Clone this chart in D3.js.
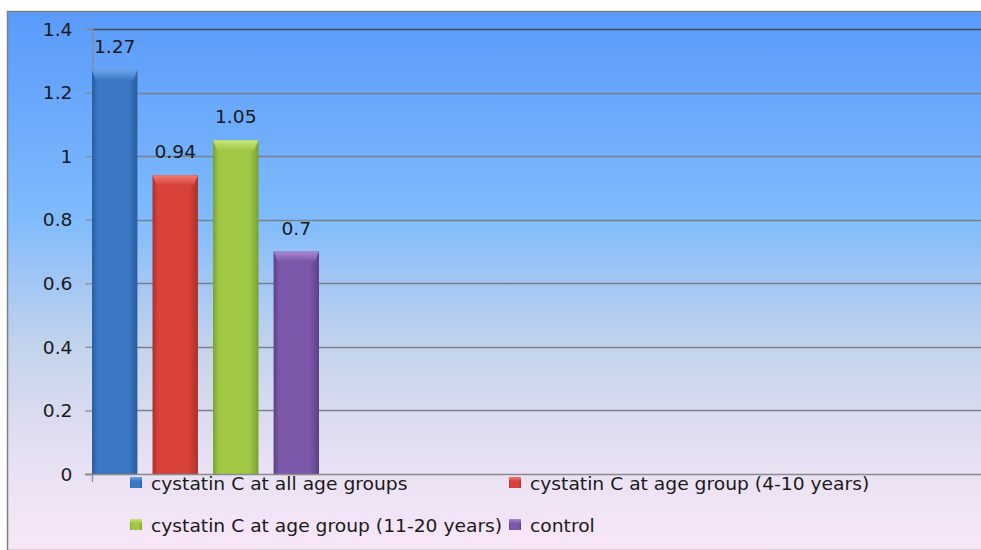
<!DOCTYPE html>
<html>
<head>
<meta charset="utf-8">
<script src="https://cdn.jsdelivr.net/npm/d3@7"></script>
<style>
  html, body { margin: 0; padding: 0; background: #ffffff; }
  svg { display: block; }
  text { font-family: "DejaVu Sans", Verdana, sans-serif; fill: #1a1a1a; }
</style>
</head>
<body>
<svg id="chart" width="981" height="550"></svg>
<script>
// chart data
var seriesNames = [
    "cystatin C at all age groups",
    "cystatin C at age group (4-10 years)",
    "cystatin C at age group (11-20 years)",
    "control"
];
var seriesValues = [1.27, 0.94, 1.05, 0.7];
var valueLabels = ["1.27", "0.94", "1.05", "0.7"];
var yTicks = [0, 0.2, 0.4, 0.6, 0.8, 1, 1.2, 1.4];

var style = {
    colors: [
        { base: "#3a78c4", dark: "#2a5c9c", light: "#6aa4e4" },
        { base: "#d8423a", dark: "#a8302a", light: "#f07a70" },
        { base: "#a0c844", dark: "#78a030", light: "#c8e67a" },
        { base: "#7c58aa", dark: "#5c3e86", light: "#a888d0" }
    ],
    bevel: 10,
    fontSize: 17,
    stretch: 1.1
};

var svg = d3.select("#chart");
var defs = svg.append("defs");

// background, stops given by pixel row
var bgStops = [
    [11, "#5a9afc"], [150, "#72b0fc"], [220, "#80bcfc"], [280, "#a2c6f4"],
    [350, "#c4d4ec"], [420, "#dcdcf0"], [474, "#eae2f4"], [550, "#f8e6f8"]
];
var bg = defs.append("linearGradient")
    .attr("id", "bgGrad")
    .attr("x1", 0).attr("y1", 0).attr("x2", 0).attr("y2", 1);
bgStops.forEach(function(s) {
    bg.append("stop")
        .attr("offset", ((s[0] - 11) / 539 * 100) + "%")
        .attr("stop-color", s[1]);
});

svg.append("rect")
    .attr("x", 7.5).attr("y", 11.5)
    .attr("width", 990).attr("height", 539)
    .attr("fill", "url(#bgGrad)")
    .attr("stroke", "#808080")
    .attr("stroke-width", 1.5);

var margin = { left: 92, top: 29, bottom: 474, right: 981 };

var y = d3.scaleLinear()
    .domain([0, 1.4])
    .range([margin.bottom, margin.top]);

var x = d3.scaleBand()
    .domain(seriesNames)
    .range([margin.left, 319])
    .paddingInner(0.25)
    .paddingOuter(0);

// stretched text helper
function placeText(sel, fx, fy) {
    sel.attr("x", 0).attr("y", 0)
        .attr("transform", function(d, i) {
            return "translate(" + fx(d, i) + "," + fy(d, i) + ") scale(" + style.stretch + ",1)";
        })
        .style("font-size", style.fontSize + "px");
}

// gradients per bar
style.colors.forEach(function(c, i) {
    var g = defs.append("linearGradient")
        .attr("id", "barGrad" + i)
        .attr("x1", 0).attr("y1", 0).attr("x2", 1).attr("y2", 0);
    g.append("stop").attr("offset", "0%").attr("stop-color", c.dark);
    g.append("stop").attr("offset", "12%").attr("stop-color", c.base);
    g.append("stop").attr("offset", "80%").attr("stop-color", c.base);
    g.append("stop").attr("offset", "100%").attr("stop-color", c.dark);

    var t = defs.append("linearGradient")
        .attr("id", "topGrad" + i)
        .attr("x1", 0).attr("y1", 0).attr("x2", 0).attr("y2", 1);
    t.append("stop").attr("offset", "0%").attr("stop-color", c.light);
    t.append("stop").attr("offset", "100%").attr("stop-color", c.base);
});

// gridlines
svg.append("g")
    .selectAll("line")
    .data(yTicks.filter(function(d) { return d > 0; }))
    .enter()
    .append("line")
    .attr("x1", margin.left)
    .attr("x2", margin.right)
    .attr("y1", function(d) { return Math.round(y(d)) + 0.5; })
    .attr("y2", function(d) { return Math.round(y(d)) + 0.5; })
    .attr("stroke", function(d) { return d === 1.4 ? "#404a5a" : "#7a8088"; })
    .attr("stroke-width", function(d) { return d === 1.4 ? 1.6 : 1.3; });

// y axis
var yAxis = d3.axisLeft(y)
    .tickValues(yTicks)
    .tickSize(7)
    .tickPadding(13)
    .tickFormat(function(d) { return d3.format("")(+d.toFixed(1)); });

var gy = svg.append("g")
    .attr("transform", "translate(" + (margin.left + 0.5) + ",0)")
    .call(yAxis);
gy.select(".domain").attr("stroke", "#8a8a8a").attr("stroke-width", 1.3);
gy.selectAll(".tick line").attr("stroke", "#8a8a8a").attr("stroke-width", 1.3);
gy.selectAll(".tick text")
    .attr("dy", null)
    .attr("dominant-baseline", "central")
    .style("font-family", "\"DejaVu Sans\", Verdana, sans-serif")
    .attr("fill", "#1a1a1a")
    .call(placeText, function() { return -20; }, function() { return 0; });

// bars
var bars = svg.append("g")
    .selectAll("g.bar")
    .data(seriesValues)
    .enter()
    .append("g")
    .attr("class", "bar");

bars.append("rect")
    .attr("x", function(d, i) { return x(seriesNames[i]); })
    .attr("y", function(d) { return y(d); })
    .attr("width", x.bandwidth())
    .attr("height", function(d) { return y(0) - y(d); })
    .attr("fill", function(d, i) { return "url(#barGrad" + i + ")"; });

bars.append("path")
    .attr("d", function(d, i) {
        var x0 = x(seriesNames[i]), x1 = x0 + x.bandwidth(), t = y(d), b = style.bevel;
        return "M" + x0 + "," + t + "L" + x1 + "," + t +
            "L" + (x1 - 4) + "," + (t + b) + "L" + (x0 + 4) + "," + (t + b) + "Z";
    })
    .attr("fill", function(d, i) { return "url(#topGrad" + i + ")"; });

bars.append("text")
    .attr("text-anchor", "middle")
    .text(function(d, i) { return valueLabels[i]; })
    .call(placeText,
        function(d, i) { return x(seriesNames[i]) + x.bandwidth() / 2; },
        function(d) { return y(d) - 17; });

// x axis line
svg.append("line")
    .attr("x1", margin.left - 7).attr("x2", margin.right)
    .attr("y1", margin.bottom + 0.5).attr("y2", margin.bottom + 0.5)
    .attr("stroke", "#8a8a8a").attr("stroke-width", 1.3);
svg.append("line")
    .attr("x1", margin.left + 0.5).attr("x2", margin.left + 0.5)
    .attr("y1", margin.bottom).attr("y2", margin.bottom + 8)
    .attr("stroke", "#8a8a8a").attr("stroke-width", 1.3);

// legend
var legendPos = [[130, 477], [509, 477], [130, 519], [509, 519]];
var legend = svg.append("g")
    .selectAll("g.legend")
    .data(seriesNames)
    .enter()
    .append("g")
    .attr("class", "legend")
    .attr("transform", function(d, i) { return "translate(" + legendPos[i][0] + "," + legendPos[i][1] + ")"; });

legend.append("rect")
    .attr("x", 0).attr("y", 0)
    .attr("width", 12).attr("height", 11)
    .attr("fill", function(d, i) { return "url(#barGrad" + i + ")"; });
legend.append("rect")
    .attr("x", 0).attr("y", 0)
    .attr("width", 12).attr("height", 4)
    .attr("fill", function(d, i) { return "url(#topGrad" + i + ")"; });

legend.append("text")
    .text(function(d) { return d; })
    .call(placeText, function() { return 21; }, function() { return 13; });
</script>
</body>
</html>
